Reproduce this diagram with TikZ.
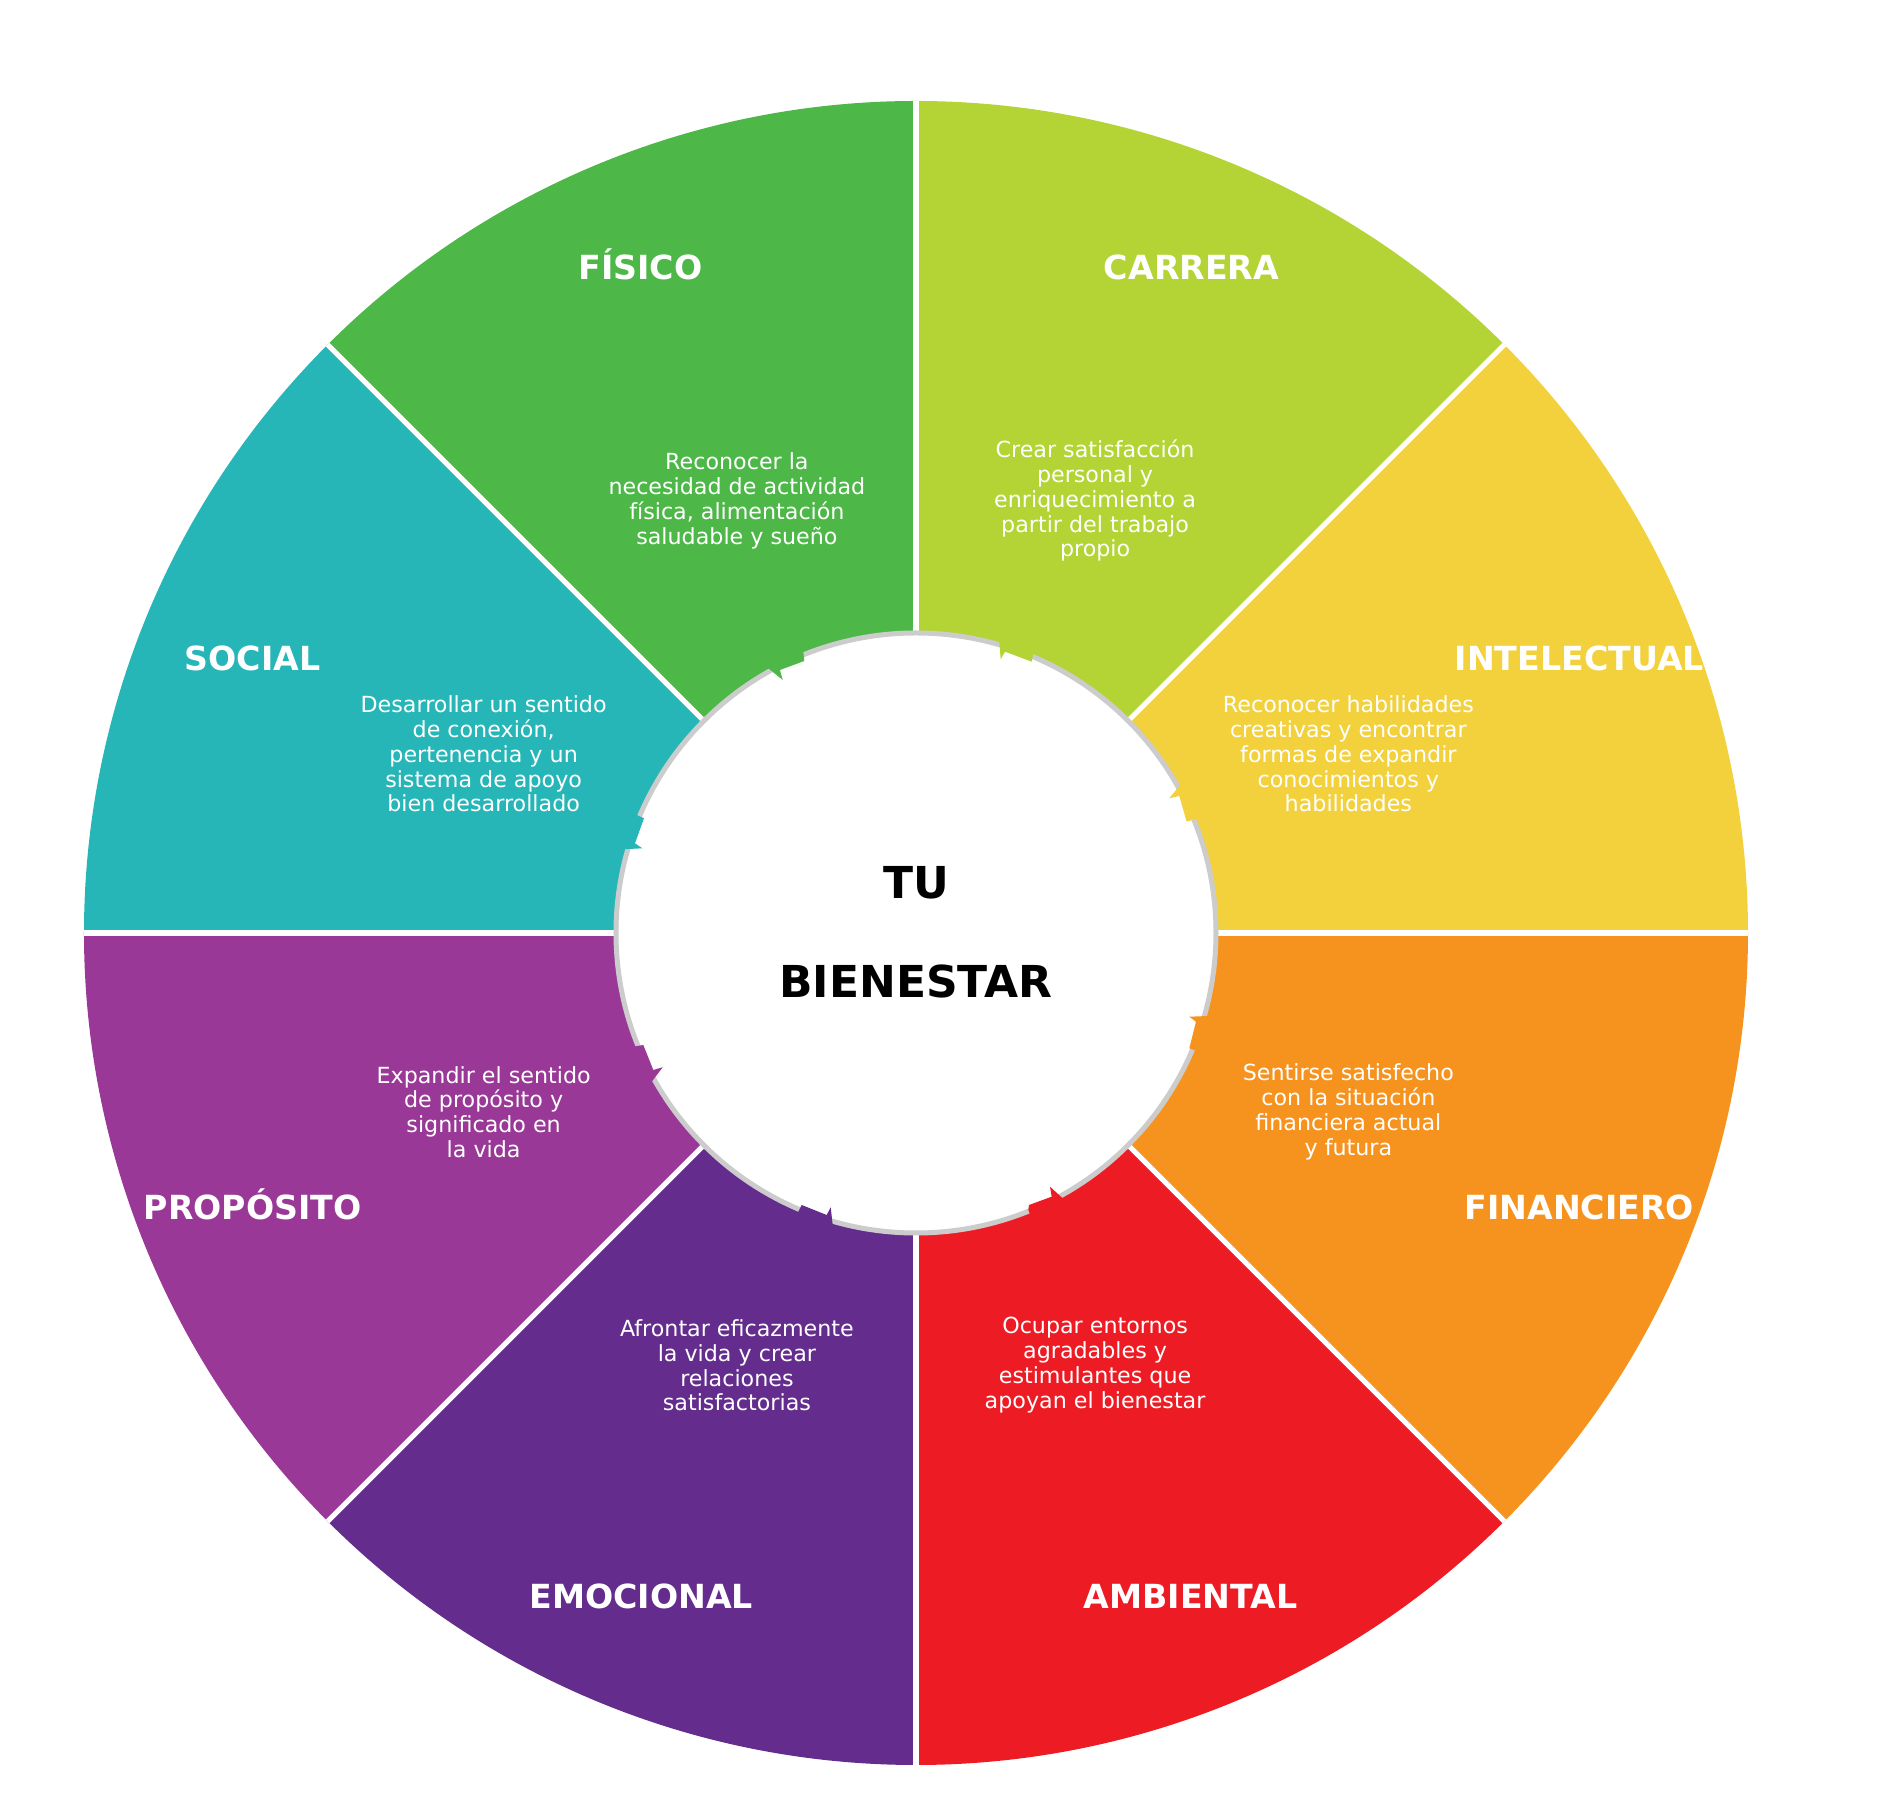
\documentclass[tikz,border=0pt]{standalone}
\usepackage{fontspec}
\setmainfont{DejaVu Sans}
\definecolor{cFis}{HTML}{4DB848}
\definecolor{cCar}{HTML}{B3D434}
\definecolor{cInt}{HTML}{F2D13D}
\definecolor{cFin}{HTML}{F6931E}
\definecolor{cAmb}{HTML}{ED1C24}
\definecolor{cEmo}{HTML}{632C8D}
\definecolor{cPro}{HTML}{993896}
\definecolor{cSoc}{HTML}{26B6B7}
\definecolor{cRim}{HTML}{CCCCCC}
\begin{document}
\begin{tikzpicture}[x=0.5pt,y=0.5pt,
  sep/.style={line width=2.6pt, white},
  ttl/.style={text=white, inner sep=0pt, text height=12.1pt, text depth=0pt, font=\fontsize{16.6}{20}\selectfont\bfseries},
  dsc/.style={text=white, inner sep=0pt, align=center, font=\fontsize{11.1}{12.45}\selectfont},
  ctr/.style={text=black, inner sep=0pt, text height=16.04pt, text depth=0pt, font=\fontsize{22}{26}\selectfont\bfseries},
  rim/.style={fill=white, draw=cRim, line width=2.5pt}]
\useasboundingbox (-916,-874) rectangle (968,933);
% sectors
\fill[cInt] (0,0) -- (0:832) arc[start angle=0,end angle=45,radius=832] -- cycle;
\fill[cCar] (0,0) -- (45:832) arc[start angle=45,end angle=90,radius=832] -- cycle;
\fill[cFis] (0,0) -- (90:832) arc[start angle=90,end angle=135,radius=832] -- cycle;
\fill[cSoc] (0,0) -- (135:832) arc[start angle=135,end angle=180,radius=832] -- cycle;
\fill[cPro] (0,0) -- (180:832) arc[start angle=180,end angle=225,radius=832] -- cycle;
\fill[cEmo] (0,0) -- (225:832) arc[start angle=225,end angle=270,radius=832] -- cycle;
\fill[cAmb] (0,0) -- (270:832) arc[start angle=270,end angle=315,radius=832] -- cycle;
\fill[cFin] (0,0) -- (315:832) arc[start angle=315,end angle=360,radius=832] -- cycle;
% separators
\foreach \a in {0,45,...,315} \draw[sep] (0,0) -- (\a:832);
% inner circle
\draw[rim] (0,0) circle[radius=300];
\coordinate (c) at (0,0);
% arrow tips
\fill[cFis] (111.8:316) -- (-112.7,281.3) -- (-111.7,272) -- (-136,263) -- (-133.3,253) -- (-147.7,264.7) -- (119.2:316) -- cycle;
\fill[cCar] (74.0:316) -- (83.3,291.3) -- (84.7,273.7) -- (89,281.3) -- (115.7,271.3) -- (117.3,279.7) -- (67.25:316) -- cycle;
\fill[cInt] (29.3:316) -- (264,148) -- (253.3,134.7) -- (263.3,137) -- (270.7,111.3) -- (280,114) -- (22.15:316) -- cycle;
\fill[cFin] (-15.85:316) -- (292.3,-83) -- (273.3,-83.7) -- (280,-88.7) -- (273.3,-115.3) -- (280,-117.7) -- (-22.8:316) -- cycle;
\fill[cAmb] (-67.9:316) -- (112.3,-277) -- (113,-272) -- (135.7,-263.7) -- (134,-253.7) -- (146.7,-265.3) -- (-61.05:316) -- cycle;
\fill[cEmo] (247.1:316) -- (-117.7,-278.7) -- (-114.3,-272) -- (-89.3,-282) -- (-85.3,-274.3) -- (-83.3,-292) -- (254.1:316) -- cycle;
\fill[cPro] (201.9:316) -- (-282.7,-113.7) -- (-272.7,-112) -- (-262.7,-137) -- (-253.3,-134.3) -- (-264.3,-148.7) -- (209.4:316) -- cycle;
\fill[cSoc] (157.1:316) -- (-279.3,118) -- (-272,114.7) -- (-281,89.7) -- (-273.7,84.7) -- (-292.7,83.7) -- (164.0:316) -- cycle;
% titles
\node[ttl] (tFis) at (112.5:720) {FÍSICO};
\node[ttl] (tCar) at (67.5:720) {CARRERA};
\node[ttl] (tInt) at (22.5:718) {INTELECTUAL};
\node[ttl] (tFin) at (-22.5:718) {FINANCIERO};
\node[ttl] (tAmb) at (-67.5:718) {AMBIENTAL};
\node[ttl] (tEmo) at (-112.5:718) {EMOCIONAL};
\node[ttl] (tPro) at (-157.5:718) {PROPÓSITO};
\node[ttl] (tSoc) at (157.5:718) {SOCIAL};
% descriptions
\node[dsc] (dFis) at (112.5:468) {Reconocer la\\necesidad de actividad\\física, alimentación\\saludable y sueño};
\node[dsc] (dCar) at (67.5:468) {Crear satisfacción\\personal y\\enriquecimiento a\\partir del trabajo\\propio};
\node[dsc] (dInt) at (22.5:468) {Reconocer habilidades\\creativas y encontrar\\formas de expandir\\conocimientos y\\habilidades};
\node[dsc] (dFin) at (-22.5:468) {Sentirse satisfecho\\con la situación\\financiera actual\\y futura};
\node[dsc] (dAmb) at (-67.5:468) {Ocupar entornos\\agradables y\\estimulantes que\\apoyan el bienestar};
\node[dsc] (dEmo) at (-112.5:468) {Afrontar eficazmente\\la vida y crear\\relaciones\\satisfactorias};
\node[dsc] (dPro) at (-157.5:468) {Expandir el sentido\\de propósito y\\significado en\\la vida};
\node[dsc] (dSoc) at (157.5:468) {Desarrollar un sentido\\de conexión,\\pertenencia y un\\sistema de apoyo\\bien desarrollado};
% centre
\node[ctr] (tu) at (0,51) {TU};
\node[ctr] (bien) at (0,-48) {BIENESTAR};
\end{tikzpicture}
\end{document}
